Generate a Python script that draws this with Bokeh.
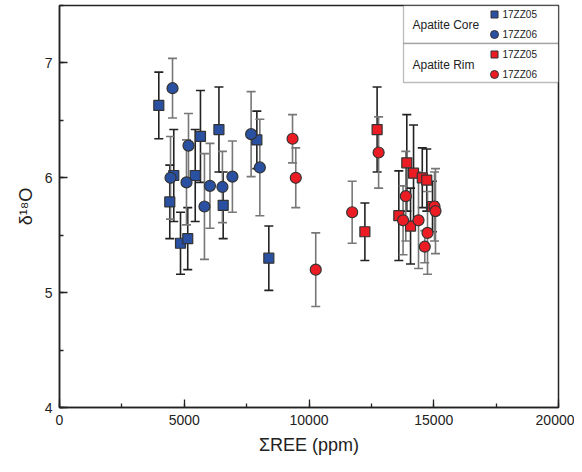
from bokeh.plotting import figure
from bokeh.models import (Whisker, ColumnDataSource, TeeHead, SingleIntervalTicker,
                          BoxAnnotation, Label, Range1d)
from bokeh.embed import file_html
from bokeh.resources import INLINE

# ---- data ----
core05_x = [3980, 4420, 4580, 4850, 5140, 5440, 5650, 6390, 6560, 7910, 8390]
core05_y = [6.63, 5.79, 6.02, 5.43, 5.47, 6.02, 6.36, 6.42, 5.76, 6.33, 5.30]
core05_e = [0.29, 0.32, 0.40, 0.27, 0.27, 0.40, 0.40, 0.37, 0.29, 0.25, 0.28]

core06_x = [4530, 4450, 5090, 5170, 5810, 6030, 6530, 6930, 7680, 8030]
core06_y = [6.78, 6.00, 5.96, 6.28, 5.75, 5.93, 5.92, 6.01, 6.38, 6.09]
core06_e = [0.26, 0.36, 0.37, 0.28, 0.46, 0.37, 0.31, 0.31, 0.37, 0.42]

rim05_x = [12240, 12730, 13600, 13920, 14070, 14190, 14540, 14720, 14950]
rim05_y = [5.53, 6.42, 5.67, 6.13, 5.58, 6.04, 6.00, 5.98, 5.75]
rim05_e = [0.25, 0.37, 0.39, 0.42, 0.33, 0.42, 0.26, 0.27, 0.22]

rim06_x = [9340, 9470, 10270, 11730, 12790, 13770, 13880, 14390, 14640, 14750, 15030, 15070]
rim06_y = [6.34, 6.00, 5.20, 5.70, 6.22, 5.63, 5.84, 5.63, 5.40, 5.52, 5.75, 5.71]
rim06_e = [0.21, 0.26, 0.32, 0.27, 0.31, 0.30, 0.39, 0.42, 0.14, 0.36, 0.30, 0.37]

group_labels = ["Apatite Core", "Apatite Rim"]
sample_labels = ["17ZZ05", "17ZZ06"]
x_label = "ΣREE (ppm)"
y_label = "δ¹⁸O"

BLUE = "#2A50A2"
RED = "#EC1C24"
EDGE = "#333333"
FONT = "Liberation Sans"

X0, X1 = 0, 20000
Y0, Y1 = 4, 7.5

FRAME_W, FRAME_H = 499, 402

p = figure(width=574, height=464, output_backend="svg", toolbar_location=None,
           x_range=Range1d(X0, X1), y_range=Range1d(Y0, Y1),
           min_border_left=59, min_border_right=16, min_border_top=5, min_border_bottom=57)
p.grid.visible = False
p.outline_line_color = "#222222"
p.outline_line_width = 1.5

series = [
    (core05_x, core05_y, core05_e, "square", BLUE, "#222222", 8),
    (core06_x, core06_y, core06_e, "circle", BLUE, "#777777", 11),
    (rim05_x, rim05_y, rim05_e, "square", RED, "#222222", 8),
    (rim06_x, rim06_y, rim06_e, "circle", RED, "#777777", 11),
]

for xs, ys, es, marker, color, ecol, size in series:
    src = ColumnDataSource(dict(x=xs, y=ys,
                                lo=[y - e for y, e in zip(ys, es)],
                                hi=[y + e for y, e in zip(ys, es)]))
    w = Whisker(source=src, base="x", upper="hi", lower="lo",
                line_color=ecol, line_width=1.6,
                upper_head=TeeHead(size=9, line_color=ecol, line_width=1.6),
                lower_head=TeeHead(size=9, line_color=ecol, line_width=1.6))
    p.add_layout(w)

for xs, ys, es, marker, color, ecol, size in series:
    p.scatter(xs, ys, marker=marker, size=size + (2 if marker == "square" else 0),
              fill_color=color, line_color=EDGE, line_width=1.2)

# axes
for ax, interval in ((p.xaxis, 5000), (p.yaxis, 1)):
    ax.ticker = SingleIntervalTicker(interval=interval, num_minor_ticks=2)
    ax.major_tick_in = 8
    ax.major_tick_out = 0
    ax.minor_tick_in = 4
    ax.minor_tick_out = 0
    ax.axis_line_color = "#222222"
    ax.axis_line_width = 1.5
    ax.major_tick_line_color = "#222222"
    ax.minor_tick_line_color = "#222222"
    ax.major_tick_line_width = 1.3
    ax.minor_tick_line_width = 1.3
    ax.major_label_text_font = FONT
    ax.major_label_text_font_size = "14px"
    ax.major_label_text_color = "#222222"
    ax.axis_label_text_font = FONT
    ax.axis_label_text_font_size = "18px"
    ax.axis_label_text_font_style = "normal"
    ax.axis_label_text_color = "#222222"
    ax.major_label_standoff = 7

p.xaxis.axis_label = x_label
p.yaxis.axis_label = y_label
p.xaxis.axis_label_standoff = 7
p.yaxis.axis_label_standoff = 6

# ---- grouped legend (top-right corner, layout derived from ranges) ----
upx_y = (Y1 - Y0) / FRAME_H   # data units per pixel
upx_x = (X1 - X0) / FRAME_W
def dx(px):
    return X1 - px * upx_x
def dy(px):
    return Y1 - px * upx_y

leg_left = dx(155)
div_y = dy(38)
leg_bottom = dy(77)
for top, bot in ((Y1, div_y), (div_y, leg_bottom)):
    p.add_layout(BoxAnnotation(left=leg_left, right=X1, top=top, bottom=bot,
                               fill_color="white", fill_alpha=1.0,
                               line_color="#222222", line_width=1.3,
                               level="annotation"))

rows = [dy(9), dy(29), dy(49), dy(69)]
mk_x = dx(64)
leg_marks = [("square", BLUE), ("circle", BLUE), ("square", RED), ("circle", RED)]
for (m, c), ry, lab in zip(leg_marks, rows, sample_labels * 2):
    p.scatter([mk_x], [ry], marker=m, size=7 if m == "square" else 8,
              fill_color=c, line_color=EDGE, line_width=1, level="overlay")
    p.add_layout(Label(x=dx(56), y=ry, text=lab, text_font=FONT,
                       text_font_size="10px", text_color="#222222",
                       text_baseline="middle", level="overlay"))

for g, (a, b) in zip(group_labels, ((0, 1), (2, 3))):
    p.add_layout(Label(x=dx(146), y=(rows[a] + rows[b]) / 2, text=g, text_font=FONT,
                       text_font_size="12px", text_color="#222222",
                       text_baseline="middle", level="overlay"))

open("out.html", "w").write(file_html(p, INLINE))
